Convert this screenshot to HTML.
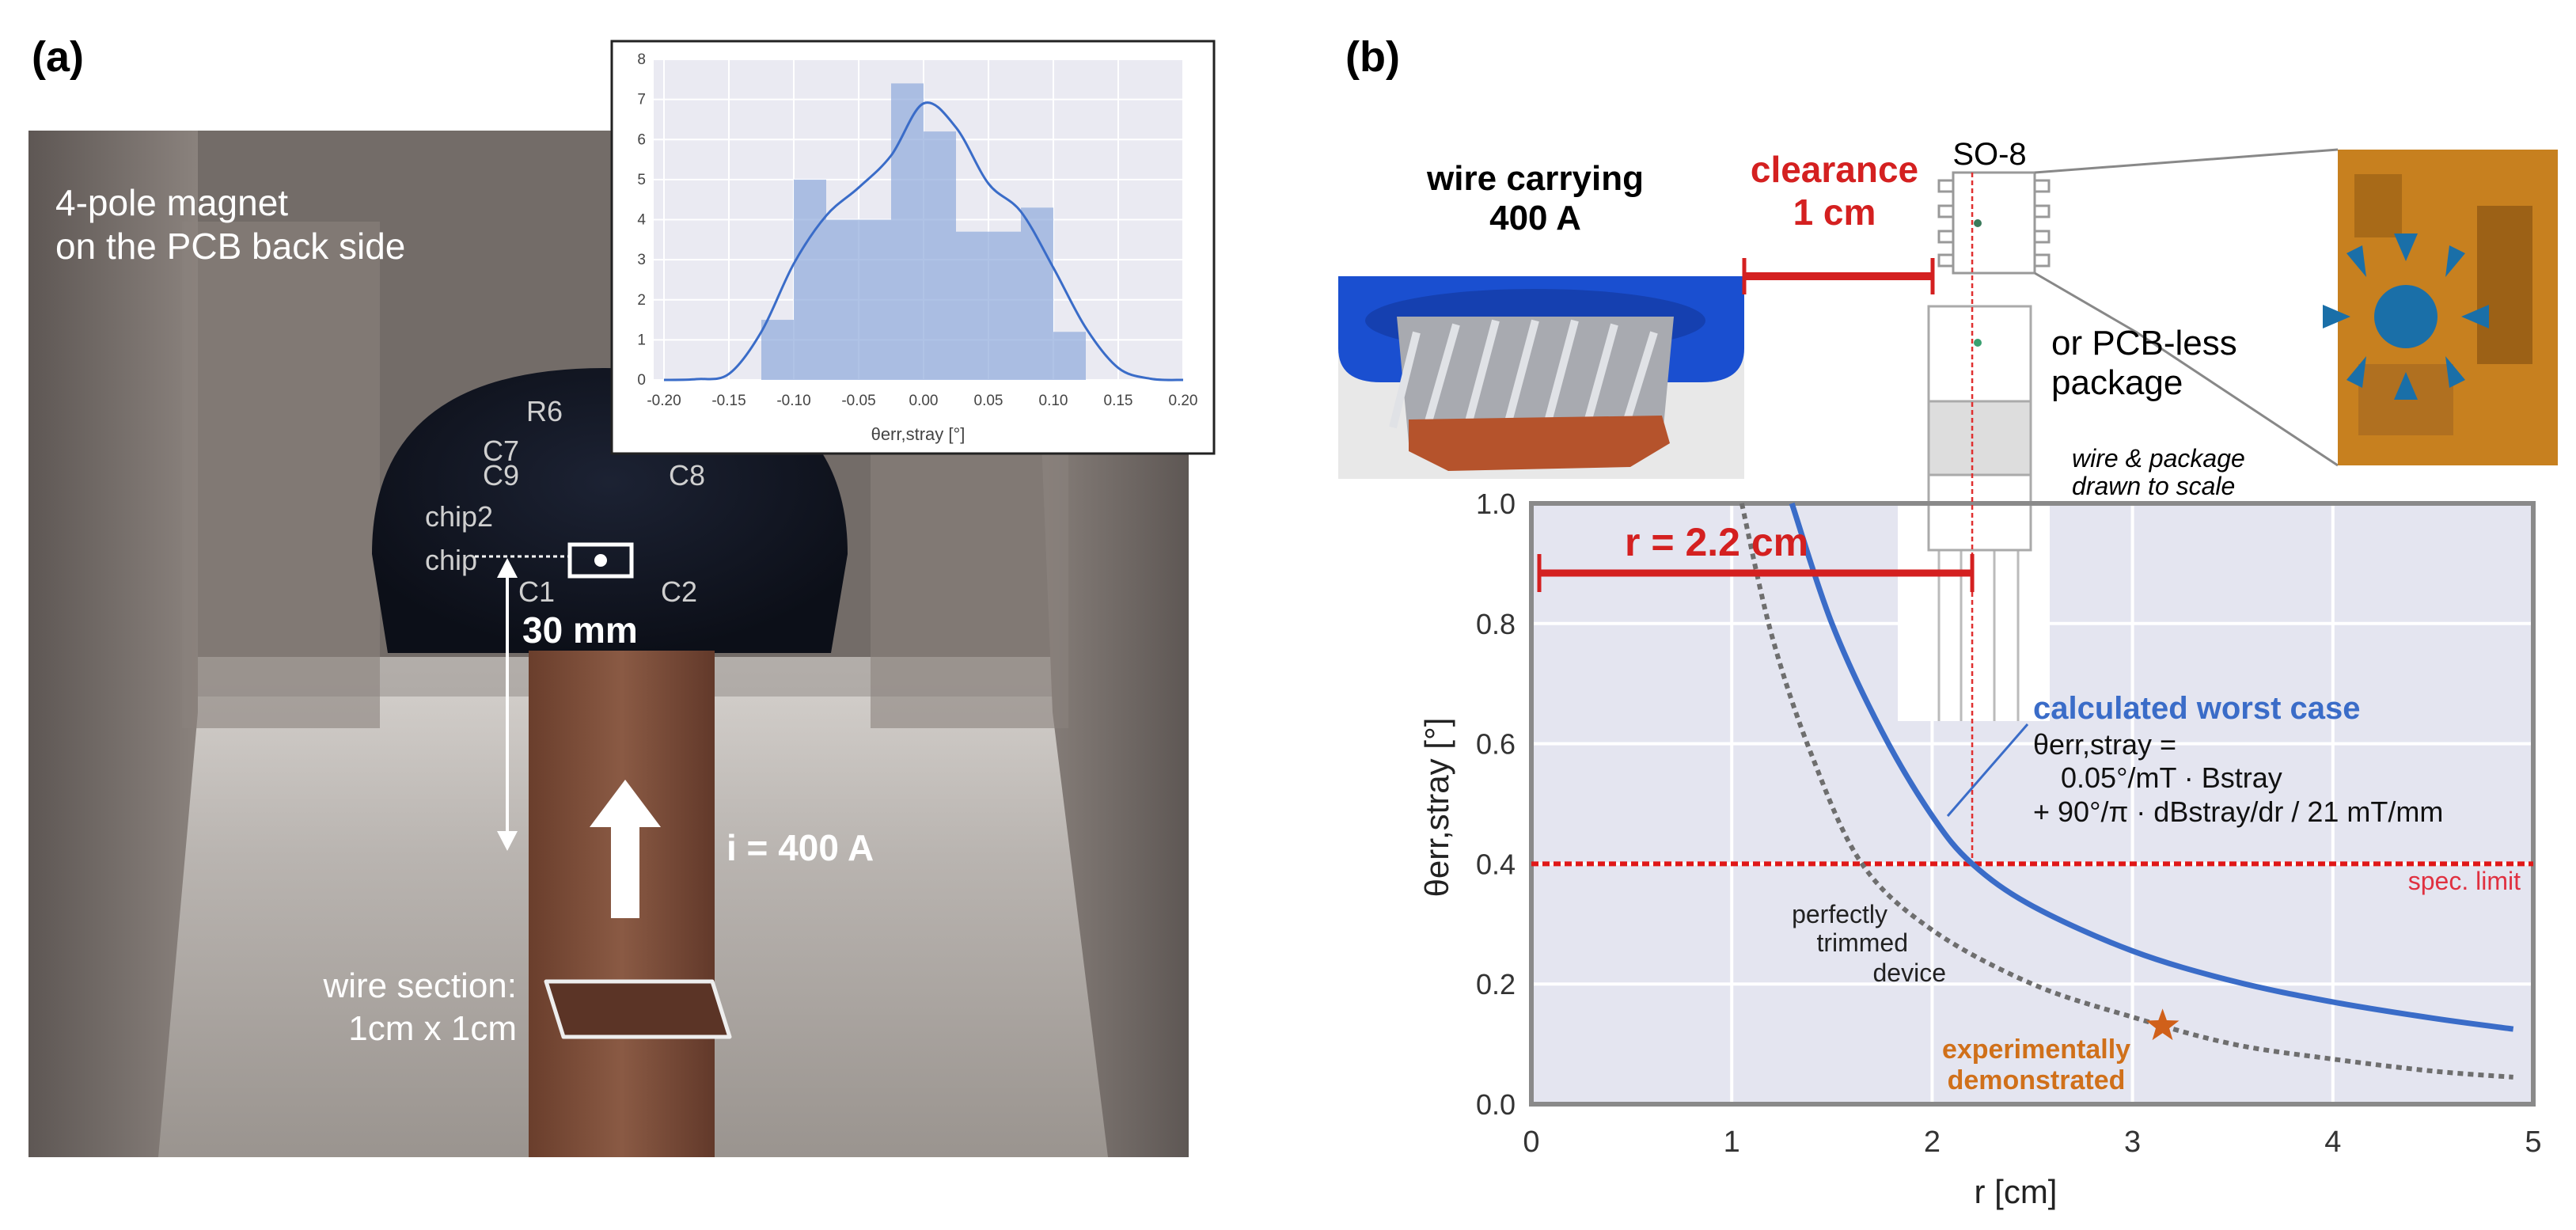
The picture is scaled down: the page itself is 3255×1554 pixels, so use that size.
<!DOCTYPE html>
<html><head><meta charset="utf-8"><style>
html,body{margin:0;padding:0;background:#fff;}
body{width:3255px;height:1549px;overflow:hidden;position:relative;font-family:"Liberation Sans",sans-serif;}
</style></head><body>
<svg id="fig" width="3255" height="1549" viewBox="0 0 3255 1549" xmlns="http://www.w3.org/2000/svg" font-family="Liberation Sans, sans-serif">
<defs>
<linearGradient id="floor" x1="0" y1="0" x2="0" y2="1"><stop offset="0" stop-color="#d6d2ce"/><stop offset="0.4" stop-color="#b9b4b0"/><stop offset="1" stop-color="#9a948f"/></linearGradient>
<linearGradient id="wall" x1="0" y1="0" x2="1" y2="0"><stop offset="0" stop-color="#5e5754"/><stop offset="1" stop-color="#8a827d"/></linearGradient>
<linearGradient id="wallr" x1="0" y1="0" x2="1" y2="0"><stop offset="0" stop-color="#8a827d"/><stop offset="1" stop-color="#5e5754"/></linearGradient>
<linearGradient id="copper" x1="0" y1="0" x2="1" y2="0"><stop offset="0" stop-color="#6a3e2c"/><stop offset="0.5" stop-color="#8a5a44"/><stop offset="1" stop-color="#62392a"/></linearGradient>
<radialGradient id="pcb" cx="0.5" cy="0.4" r="0.6"><stop offset="0" stop-color="#1c2233"/><stop offset="1" stop-color="#0c0f18"/></radialGradient>
</defs>

<!-- (a) panel -->
<text x="40" y="90" font-size="54" font-weight="bold">(a)</text>
<g>
<rect x="36" y="165" width="1466" height="1297" fill="#736c68"/>
<rect x="36" y="830" width="1466" height="632" fill="url(#floor)"/>
<rect x="36" y="830" width="1466" height="50" fill="#8f8985" opacity="0.5"/>
<polygon points="36,165 250,165 250,900 200,1462 36,1462" fill="url(#wall)"/>
<polygon points="1300,165 1502,165 1502,1462 1400,1462 1330,900" fill="url(#wallr)"/>
<rect x="230" y="280" width="250" height="640" fill="#8a827d" opacity="0.6"/>
<rect x="1100" y="560" width="250" height="360" fill="#8a827d" opacity="0.6"/>
<path d="M470,700 Q470,465 765,465 Q1071,465 1071,700 L1050,825 L490,825 Z" fill="url(#pcb)"/>
<rect x="668" y="822" width="235" height="640" fill="url(#copper)"/>
<text x="665" y="532" font-size="36" fill="#cfcfcf">R6</text>
<text x="610" y="582" font-size="36" fill="#cfcfcf">C7</text>
<text x="610" y="613" font-size="36" fill="#cfcfcf">C9</text>
<text x="845" y="613" font-size="36" fill="#cfcfcf">C8</text>
<text x="537" y="665" font-size="36" fill="#cfcfcf">chip2</text>
<text x="537" y="720" font-size="36" fill="#cfcfcf">chip</text>
<text x="655" y="760" font-size="36" fill="#cfcfcf">C1</text>
<text x="835" y="760" font-size="36" fill="#cfcfcf">C2</text>
<rect x="720" y="688" width="78" height="40" fill="none" stroke="#fff" stroke-width="5"/>
<circle cx="759" cy="708" r="8" fill="#fff"/>
<line x1="600" y1="703" x2="718" y2="703" stroke="#fff" stroke-width="3" stroke-dasharray="5,4"/>
<line x1="641" y1="715" x2="641" y2="1065" stroke="#fff" stroke-width="4"/>
<polygon points="641,705 628,730 654,730" fill="#fff"/>
<polygon points="641,1075 628,1050 654,1050" fill="#fff"/>
<polygon points="790,985 745,1045 772,1045 772,1160 808,1160 808,1045 835,1045" fill="#fff"/>
<polygon points="690,1240 900,1240 922,1310 712,1310" fill="#5b3426" stroke="#eee" stroke-width="5" stroke-linejoin="round"/>
<text x="70" y="272" font-size="46" fill="#fff">4-pole magnet</text>
<text x="70" y="327" font-size="46" fill="#fff">on the PCB back side</text>
<text x="660" y="812" font-size="46" font-weight="bold" fill="#fff">30 mm</text>
<text x="918" y="1087" font-size="46" font-weight="bold" fill="#fff">i = 400 A</text>
<text x="653" y="1260" font-size="44" fill="#fff" text-anchor="end">wire section:</text>
<text x="653" y="1314" font-size="44" fill="#fff" text-anchor="end">1cm x 1cm</text>
</g>

<!-- inset histogram -->
<g id="inset">
<rect x="773" y="52" width="761" height="521" fill="#fff" stroke="#222" stroke-width="3"/>
<rect x="826" y="75" width="669" height="405" fill="#eaeaf2"/>
</g>

<!-- (b) panel -->
<text x="1700" y="90" font-size="54" font-weight="bold">(b)</text>
<g>
<rect x="1691" y="349" width="513" height="256" fill="#e8e8e8"/>
<path d="M1691,349 L2204,349 L2204,440 Q2204,483 2150,483 L1745,483 Q1691,483 1691,440 Z" fill="#1a4fd0"/>
<ellipse cx="1940" cy="405" rx="215" ry="40" fill="#1540b0"/>
<path d="M1765,400 L2115,400 L2100,560 L1780,560 Z" fill="#a8aab0"/>
<g stroke="#e0e2e6" stroke-width="10">
<line x1="1790" y1="420" x2="1760" y2="540"/><line x1="1840" y1="410" x2="1800" y2="550"/><line x1="1890" y1="405" x2="1850" y2="555"/><line x1="1940" y1="405" x2="1900" y2="555"/><line x1="1990" y1="405" x2="1950" y2="555"/><line x1="2040" y1="410" x2="2000" y2="555"/><line x1="2090" y1="420" x2="2050" y2="550"/></g>
<path d="M1780,530 L2100,525 L2110,560 L2060,590 L1830,595 L1780,570 Z" fill="#b5532c"/>
</g>
<text x="1940" y="240" font-size="44" font-weight="bold" text-anchor="middle">wire carrying</text>
<text x="1940" y="290" font-size="44" font-weight="bold" text-anchor="middle">400 A</text>
<text x="2318" y="230" font-size="46" font-weight="bold" fill="#d42020" text-anchor="middle">clearance</text>
<text x="2318" y="284" font-size="46" font-weight="bold" fill="#d42020" text-anchor="middle">1 cm</text>
<g stroke="#d42020">
<line x1="2204" y1="349" x2="2442" y2="349" stroke-width="10"/>
<line x1="2204" y1="326" x2="2204" y2="372" stroke-width="5"/>
<line x1="2442" y1="326" x2="2442" y2="372" stroke-width="5"/>
</g>
<text x="2514" y="208" font-size="40" text-anchor="middle">SO-8</text>
<g fill="#fff" stroke="#999" stroke-width="3">
<rect x="2468" y="218" width="103" height="127"/>
<rect x="2450" y="228" width="18" height="14"/><rect x="2450" y="260" width="18" height="14"/><rect x="2450" y="292" width="18" height="14"/><rect x="2450" y="322" width="18" height="14"/>
<rect x="2571" y="228" width="18" height="14"/><rect x="2571" y="260" width="18" height="14"/><rect x="2571" y="292" width="18" height="14"/><rect x="2571" y="322" width="18" height="14"/>
</g>
<circle cx="2499" cy="282" r="5" fill="#3a7a5a"/>
<polyline points="2571,218 2954,189" fill="none" stroke="#888" stroke-width="3"/>
<polyline points="2571,345 2700,420 2954,588" fill="none" stroke="#888" stroke-width="3"/>
<g fill="#fff" stroke="#aaa" stroke-width="3">
<rect x="2437" y="387" width="129" height="120"/>
<rect x="2437" y="507" width="129" height="100" fill="#ddd"/>
<rect x="2398" y="607" width="192" height="304" stroke="none"/>
<rect x="2437" y="610" width="129" height="82"/>
<line x1="2450" y1="692" x2="2450" y2="911"/><line x1="2478" y1="692" x2="2478" y2="911"/><line x1="2520" y1="692" x2="2520" y2="911"/><line x1="2550" y1="692" x2="2550" y2="911"/>
</g>
<circle cx="2499" cy="433" r="5" fill="#3aa070"/>
<g>
<rect x="2954" y="189" width="278" height="399" fill="#c7801f"/>
<rect x="2975" y="220" width="60" height="80" fill="#a86a18"/><rect x="3130" y="260" width="70" height="200" fill="#9c6116"/><rect x="2980" y="460" width="120" height="90" fill="#b07020"/>
<circle cx="3040" cy="400" r="40" fill="#1a6fa8"/>
<g fill="#1a6fa8"><polygon points="3040,330 3025,295 3055,295"/><polygon points="3040,470 3025,505 3055,505"/><polygon points="2970,400 2935,385 2935,415"/><polygon points="3110,400 3145,385 3145,415"/><polygon points="2990,350 2965,320 2985,310"/><polygon points="3090,350 3115,320 3095,310"/><polygon points="2990,450 2965,480 2985,490"/><polygon points="3090,450 3115,480 3095,490"/></g>
</g>
<text x="2592" y="448" font-size="44">or PCB-less</text>
<text x="2592" y="498" font-size="44">package</text>
<text x="2618" y="590" font-size="32" font-style="italic">wire &amp; package</text>
<text x="2618" y="625" font-size="32" font-style="italic">drawn to scale</text>

<g id="chart"></g>
</svg>
<script>
// ----- main chart data -----
const xTicks = [0, 1, 2, 3, 4, 5];
const yTicks = [0.0, 0.2, 0.4, 0.6, 0.8, 1.0];
const worstR = [1.3, 1.5, 1.75, 2.0, 2.2, 2.5, 3.0, 3.5, 4.0, 4.5, 4.9];
const worstVal = [1.0, 0.8, 0.62, 0.48, 0.4, 0.33, 0.255, 0.205, 0.17, 0.143, 0.125];
const trimR = [1.05, 1.2, 1.4, 1.65, 2.0, 2.5, 3.0, 3.5, 4.0, 4.5, 4.9];
const trimVal = [1.0, 0.78, 0.58, 0.4, 0.29, 0.2, 0.145, 0.1, 0.075, 0.055, 0.045];
const specLimit = [0.4];
const markerR = [2.2];
const expPoint = [3.15, 0.13];
// ----- inset histogram data -----
const histEdges = [-0.125, -0.1, -0.075, -0.05, -0.025, 0, 0.025, 0.05, 0.075, 0.1, 0.125];
const histCounts = [1.5, 5.0, 4.0, 4.0, 7.4, 6.2, 3.7, 3.7, 4.3, 1.2];
const kdeX = [-0.2, -0.175, -0.15, -0.125, -0.1, -0.075, -0.05, -0.025, 0, 0.025, 0.05, 0.075, 0.1, 0.125, 0.15, 0.175, 0.2];
const kdeY = [0, 0.02, 0.15, 1.2, 2.9, 4.1, 4.8, 5.6, 6.9, 6.3, 4.9, 4.2, 2.8, 1.3, 0.3, 0.03, 0];
const insetXTicks = [-0.20, -0.15, -0.10, -0.05, 0.00, 0.05, 0.10, 0.15, 0.20];
const insetYTicks = [0, 1, 2, 3, 4, 5, 6, 7, 8];

const NS = "http://www.w3.org/2000/svg";
function mk(parent, tag, attrs, txt) {
  const e = document.createElementNS(NS, tag);
  for (const k in attrs) e.setAttribute(k, attrs[k]);
  if (txt !== undefined) e.textContent = txt;
  parent.appendChild(e);
  return e;
}
function smoothPts(p) {
  let d = 'M' + p[0][0] + ',' + p[0][1];
  for (let i = 0; i < p.length - 1; i++) {
    const p0 = p[i - 1] || p[i], p1 = p[i], p2 = p[i + 1], p3 = p[i + 2] || p2;
    d += ' C' + (p1[0] + (p2[0] - p0[0]) / 6) + ',' + (p1[1] + (p2[1] - p0[1]) / 6) + ' ' + (p2[0] - (p3[0] - p1[0]) / 6) + ',' + (p2[1] - (p3[1] - p1[1]) / 6) + ' ' + p2[0] + ',' + p2[1];
  }
  return d;
}
// main chart
const chart = document.getElementById('chart');
const X0 = 1935, X1 = 3201, Y0 = 1395, Y1 = 636;
const sx = v => X0 + (v - 0) / 5 * (X1 - X0);
const sy = v => Y0 - v / 1.0 * (Y0 - Y1);
function smooth(xs, ys) { return smoothPts(xs.map((x, i) => [sx(x), sy(ys[i])])); }
const bg = mk(chart, 'rect', {x: X0, y: Y1, width: X1 - X0, height: Y0 - Y1, fill: '#e4e5f0'});


xTicks.forEach(t => {
  const l = mk(chart, 'line', {x1: sx(t), x2: sx(t), y1: Y1, y2: Y0, stroke: '#fff', 'stroke-width': 4});
  
  
  const tx = mk(chart, 'text', {x: sx(t), y: Y0 + 60, 'font-size': 38, 'text-anchor': 'middle', fill: '#333'}, String(t));
  
  
});
yTicks.forEach(t => {
  const l = mk(chart, 'line', {x1: X0, x2: X1, y1: sy(t), y2: sy(t), stroke: '#fff', 'stroke-width': 4});
  
  
  const tx = mk(chart, 'text', {x: X0 - 20, y: sy(t) + 13, 'font-size': 36, 'text-anchor': 'end', fill: '#333'}, t.toFixed(1));
  
  
});
const cover = mk(chart, 'rect', {x: 2398, y: 630, width: 192, height: 281, fill: '#fff'});


[2450, 2478, 2520, 2550].forEach(x => mk(chart, 'line', {x1: x, x2: x, y1: 630, y2: 911, stroke: '#bbb', 'stroke-width': 3}));
mk(chart, 'rect', {x: 2437, y: 600, width: 129, height: 95, fill: '#fff', stroke: '#aaa', 'stroke-width': 3});
const frame = mk(chart, 'rect', {x: X0, y: Y1, width: X1 - X0, height: Y0 - Y1, fill: 'none', stroke: '#8a8a8a', 'stroke-width': 6});


const spec = mk(chart, 'line', {x1: X0, x2: X1, y1: sy(specLimit[0]), y2: sy(specLimit[0]), stroke: '#e01818', 'stroke-width': 6, 'stroke-dasharray': '9,5'});


const vm = mk(chart, 'line', {x1: sx(markerR[0]), x2: sx(markerR[0]), y1: 218, y2: sy(specLimit[0]), stroke: '#e03030', 'stroke-width': 2.5, 'stroke-dasharray': '6,4'});


const trim = mk(chart, 'path', {d: smooth(trimR, trimVal), fill: 'none', stroke: '#6e6e6e', 'stroke-width': 6, 'stroke-dasharray': '7,6'});


const worst = mk(chart, 'path', {d: smooth(worstR, worstVal), fill: 'none', stroke: '#3a6cc8', 'stroke-width': 7});


const rb = mk(chart, 'line', {x1: sx(0) + 10, x2: sx(markerR[0]), y1: 724, y2: 724, stroke: '#d42020', 'stroke-width': 9});


mk(chart, 'line', {x1: sx(0) + 10, x2: sx(0) + 10, y1: 700, y2: 748, stroke: '#d42020', 'stroke-width': 5});
mk(chart, 'line', {x1: sx(markerR[0]), x2: sx(markerR[0]), y1: 700, y2: 748, stroke: '#d42020', 'stroke-width': 5});
const rt = mk(chart, 'text', {x: 2053, y: 702, 'font-size': 50, 'font-weight': 'bold', fill: '#d42020'}, 'r = 2.2 cm');


const [ex, ey] = expPoint;
const cx = sx(ex), cy = sy(ey);
let pts = [];
for (let i = 0; i < 10; i++) { const a = -Math.PI / 2 + i * Math.PI / 5, r = i % 2 ? 9 : 22; pts.push((cx + r * Math.cos(a)).toFixed(1) + ',' + (cy + r * Math.sin(a)).toFixed(1)); }
const star = mk(chart, 'polygon', {points: pts.join(' '), fill: '#d0601a'});


mk(chart, 'line', {x1: 2562, y1: 915, x2: 2461, y2: 1031, stroke: '#3a6cc8', 'stroke-width': 3});
const a1 = mk(chart, 'text', {x: 2569, y: 908, 'font-size': 40, 'font-weight': 'bold', fill: '#3a6cc8'}, 'calculated worst case');


const f1 = mk(chart, 'text', {x: 2569, y: 953, 'font-size': 36, fill: '#111'}, 'θerr,stray =');


mk(chart, 'text', {x: 2604, y: 995, 'font-size': 36, fill: '#111'}, '0.05°/mT · Bstray');
mk(chart, 'text', {x: 2569, y: 1038, 'font-size': 36, fill: '#111'}, '+ 90°/π · dBstray/dr / 21 mT/mm');
const sl = mk(chart, 'text', {x: 3185, y: 1124, 'font-size': 32, fill: '#e03040', 'text-anchor': 'end'}, 'spec. limit');


const pt = mk(chart, 'text', {x: 2385, y: 1166, 'font-size': 32, fill: '#222', 'text-anchor': 'end'}, 'perfectly');


mk(chart, 'text', {x: 2411, y: 1202, 'font-size': 32, fill: '#222', 'text-anchor': 'end'}, 'trimmed');
mk(chart, 'text', {x: 2459, y: 1240, 'font-size': 32, fill: '#222', 'text-anchor': 'end'}, 'device');
const ed = mk(chart, 'text', {x: 2573, y: 1337, 'font-size': 34, 'font-weight': 'bold', fill: '#d0701a', 'text-anchor': 'middle'}, 'experimentally');


mk(chart, 'text', {x: 2573, y: 1376, 'font-size': 34, 'font-weight': 'bold', fill: '#d0701a', 'text-anchor': 'middle'}, 'demonstrated');
const xt = mk(chart, 'text', {x: 2547, y: 1520, 'font-size': 42, 'text-anchor': 'middle', fill: '#222'}, 'r [cm]');


const yt = mk(chart, 'text', {x: 0, y: 0, 'font-size': 42, 'text-anchor': 'middle', fill: '#222', transform: 'translate(1830,1020) rotate(-90)'}, 'θerr,stray [°]');



// inset histogram
const inset = document.getElementById('inset');
const IX0 = 839, IX1 = 1495, IY0 = 480, IY1 = 75;
const ix = v => IX0 + (v + 0.2) / 0.4 * (IX1 - IX0);
const iy = v => IY0 - v / 8 * (IY0 - IY1);
insetXTicks.forEach(t => {
  mk(inset, 'line', {x1: ix(t), x2: ix(t), y1: IY1, y2: IY0, stroke: '#fff', 'stroke-width': 2});
  const tl = mk(inset, 'text', {x: ix(t), y: IY0 + 32, 'font-size': 19, 'text-anchor': 'middle', fill: '#444'}, t.toFixed(2));
  
  
});
insetYTicks.forEach(t => {
  mk(inset, 'line', {x1: 826, x2: 1495, y1: iy(t), y2: iy(t), stroke: '#fff', 'stroke-width': 2});
  const tl = mk(inset, 'text', {x: 816, y: iy(t) + 6, 'font-size': 19, 'text-anchor': 'end', fill: '#444'}, String(t));
  
  
});
histCounts.forEach((c, i) => {
  const b = mk(inset, 'rect', {x: ix(histEdges[i]), y: iy(c), width: ix(histEdges[i + 1]) - ix(histEdges[i]), height: iy(0) - iy(c), fill: '#8fa9dc', opacity: 0.7});
  
  
});
const kd = mk(inset, 'path', {d: smoothPts(kdeX.map((x, i) => [ix(x), iy(kdeY[i])])), fill: 'none', stroke: '#3a6cc8', 'stroke-width': 3});


const ixt = mk(inset, 'text', {x: 1160, y: 556, 'font-size': 22, 'text-anchor': 'middle', fill: '#444'}, 'θerr,stray [°]');


</script>
</body></html>
